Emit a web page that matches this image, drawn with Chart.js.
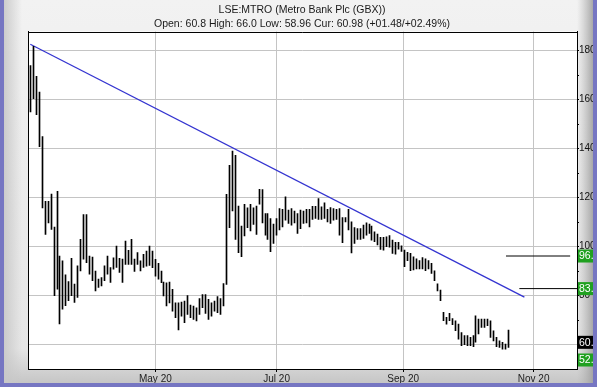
<!DOCTYPE html>
<html>
<head>
<meta charset="utf-8">
<script src="https://cdn.jsdelivr.net/npm/chart.js@4.4.0/dist/chart.umd.min.js"></script>
<style>
  html, body { margin: 0; padding: 0; background: #7676c2; }
  canvas { display: block; }
</style>
</head>
<body>
<canvas id="myChart" width="597" height="387"></canvas>
<script>
// daily high / low, one entry per trading day (Mar 20 .. Oct 20)
const highs = [
  173.9, 181.8, 169.5, 163.1, 144.9, 118.5, 118.5, 121.5, 108.0, 122.6,
  96.2, 94.2, 88.5, 85.8, 95.3, 84.7, 92.2, 103.0, 113.1, 113.1,
  96.2, 95.8, 90.1, 86.8, 87.4, 92.2, 96.2, 91.5, 95.5, 100.3,
  95.3, 94.9, 102.3, 98.5, 103.0, 94.9, 97.6, 94.2, 96.9, 98.2,
  100.3, 98.2, 94.8, 93.2, 90.1, 85.6, 85.3, 85.6, 82.6, 77.1,
  77.1, 77.4, 77.8, 80.1, 76.2, 75.8, 75.1, 78.8, 80.5, 80.5,
  78.5, 77.1, 77.8, 79.6, 78.8, 85.0, 121.4, 133.2, 139.0, 137.3,
  116.6, 108.4, 117.3, 115.9, 117.3, 115.9, 116.6, 123.4, 123.3, 113.5,
  113.5, 111.5, 109.2, 111.5, 115.6, 115.2, 120.3, 114.9, 115.6, 114.5,
  113.5, 114.9, 114.5, 115.2, 115.2, 116.5, 116.5, 119.6, 116.3, 117.9,
  115.2, 116.0, 115.6, 115.2, 115.6, 111.9, 111.9, 115.2, 110.1, 107.8,
  107.4, 107.4, 108.8, 109.7, 109.2, 108.4, 106.1, 105.1, 103.8, 103.8,
  104.0, 104.5, 102.7, 101.8, 101.8, 100.4, 98.6, 97.7, 97.3, 95.9,
  95.0, 94.3, 95.6, 95.0, 94.3, 93.2, 90.2, 84.8, 82.3, 73.2,
  71.2, 72.8, 70.7, 69.8, 68.4, 65.0, 63.7, 63.7, 63.0, 63.7,
  71.8, 70.5, 70.5, 70.5, 70.5, 69.8, 65.7, 63.0, 61.6, 61.0,
  60.3, 66.0
];
const lows = [
  155.0, 160.4, 153.9, 140.8, 115.8, 105.0, 109.7, 107.0, 80.0, 82.7,
  68.5, 74.5, 75.9, 78.0, 80.0, 77.3, 79.3, 90.1, 94.9, 93.5,
  88.8, 86.1, 82.0, 83.4, 84.0, 86.1, 88.8, 85.4, 90.8, 91.5,
  89.5, 85.4, 92.8, 92.8, 92.8, 89.9, 92.8, 90.1, 91.5, 92.1,
  92.4, 91.4, 88.0, 86.7, 85.3, 79.9, 75.8, 77.1, 73.7, 71.0,
  66.0, 71.7, 69.0, 72.4, 71.0, 70.3, 69.7, 72.4, 75.1, 72.8,
  70.3, 71.7, 73.7, 73.1, 72.4, 75.8, 84.6, 107.8, 114.6, 103.0,
  97.6, 95.9, 104.4, 107.8, 106.4, 109.1, 105.0, 117.3, 109.7, 104.7,
  103.0, 98.0, 101.3, 104.7, 106.8, 108.1, 110.8, 109.5, 108.8, 109.7,
  105.4, 107.4, 109.5, 109.7, 108.1, 111.1, 111.5, 111.1, 111.1, 111.5,
  110.1, 109.5, 110.8, 111.1, 104.7, 101.6, 110.1, 106.8, 97.5, 101.3,
  103.0, 103.0, 103.4, 104.7, 105.4, 102.7, 102.0, 100.7, 98.9, 98.6,
  100.0, 99.8, 97.3, 97.0, 99.0, 98.1, 91.8, 94.3, 90.2, 90.5,
  90.9, 90.9, 90.9, 90.2, 90.9, 89.1, 86.1, 82.0, 78.0, 69.8,
  68.4, 69.8, 68.2, 65.7, 62.3, 59.6, 60.0, 59.6, 59.6, 59.2,
  61.0, 64.4, 67.1, 67.1, 67.8, 63.0, 61.6, 59.2, 58.9, 58.2,
  58.2, 58.9
];

// x axis month labels, placed at trading-day index
const tickLabels = ['May 20', 'Jul 20', 'Sep 20', 'Nov 20'];
const tickPos = [42.1, 82.9, 125.5, 169.4];
const yTicks = [60, 70, 80, 90, 100, 110, 120, 130, 140, 150, 160, 170, 180];

// trend line and target levels
const trendX = [0, 166.3];
const trendY = [182.6, 79.4];
const targetLevels = [96.2, 82.9];
const targetFrom = [160.1, 164.6];
const targetTo = [181.7, 184.0];

// right-hand value boxes
const boxValues = [96.2, 82.9, 60.98, 52.0];
const boxTexts = ['96.8', '83.0', '60.98', '52.0'];
const boxColors = ['#20a020', '#20a020', '#000000', '#20a020'];

const titleLines = [
  'LSE:MTRO (Metro Bank Plc (GBX))',
  'Open: 60.8 High: 66.0 Low: 58.96 Cur: 60.98 (+01.48/+02.49%)'
];

const xMin = -0.6, xMax = 184.0;
const yMin = 50.1, yMax = 187.8;

Chart.defaults.font.family = "'Liberation Sans', Arial, sans-serif";
Chart.defaults.font.size = 10;

const framePlugin = {
  id: 'frame',
  beforeDraw(chart) {
    const { ctx, width, height, chartArea: a } = chart;
    ctx.save();
    ctx.fillStyle = '#7676c2';
    ctx.fillRect(0, 0, width, height);
    const g = ctx.createLinearGradient(0, 0, 0, height);
    g.addColorStop(0, '#f2f2f2');
    g.addColorStop(0.9, '#e6e6e6');
    g.addColorStop(1, '#c2c2c2');
    ctx.fillStyle = g;
    ctx.fillRect(4, 0, width - 8, height - 4);
    const gl = ctx.createLinearGradient(4, 0, 22, 0);
    gl.addColorStop(0, 'rgba(200,200,200,0.9)');
    gl.addColorStop(1, 'rgba(200,200,200,0)');
    ctx.fillStyle = gl;
    ctx.fillRect(4, 0, 18, height - 4);
    const gr = ctx.createLinearGradient(a.right, 0, width - 4, 0);
    gr.addColorStop(0, 'rgba(180,180,180,0)');
    gr.addColorStop(1, 'rgba(160,160,160,0.9)');
    ctx.fillStyle = gr;
    ctx.fillRect(a.right, 0, width - 4 - a.right, height - 4);
    ctx.fillStyle = '#ffffff';
    ctx.fillRect(a.left, a.top, a.right - a.left, a.bottom - a.top);
    ctx.restore();
  },
  beforeDatasetDraw(chart, args) {
    // snap the thin high-low bars to whole pixels so they stay crisp
    if (args.index !== 0) return;
    args.meta.data.forEach(el => { el.x = Math.round(el.x - 0.5) + 0.5; });
  },
  afterDraw(chart) {
    const { ctx, width, height, chartArea: a } = chart;
    const ys = chart.scales.y;
    ctx.save();
    ctx.strokeStyle = '#000';
    ctx.lineWidth = 1;
    ctx.beginPath();
    ctx.moveTo(a.left, Math.round(a.top) + 0.5);
    ctx.lineTo(a.right, Math.round(a.top) + 0.5);
    ctx.stroke();

    ctx.font = "10.5px 'Liberation Sans', Arial, sans-serif";
    ctx.textBaseline = 'middle';
    boxValues.forEach((v, i) => {
      const y = Math.min(ys.getPixelForValue(v), a.bottom - 9);
      ctx.fillStyle = boxColors[i];
      ctx.fillRect(a.right + 1, y - 6.5, 18, 13);
      ctx.fillStyle = '#ffffff';
      ctx.fillText(boxTexts[i], a.right + 2, y + 0.5);
    });

    ctx.fillStyle = '#7676c2';
    ctx.fillRect(width - 4, 0, 4, height);
    ctx.fillRect(0, height - 4, width, 4);
    ctx.fillRect(0, 0, 4, height);
    ctx.restore();
  }
};

const ctx = document.getElementById('myChart').getContext('2d');
const myChart = new Chart(ctx, {
  type: 'bar',
  data: {
    datasets: [
      {
        type: 'bar',
        label: 'MTRO',
        data: highs.map((h, i) => ({ x: i, y: [lows[i], h] })),
        backgroundColor: '#000000',
        borderWidth: 0,
        barThickness: 1,
        xAxisID: 'x',
        yAxisID: 'y'
      },
      {
        type: 'line',
        label: 'trend',
        data: trendX.map((x, i) => ({ x: x, y: trendY[i] })),
        borderColor: '#3434d0',
        borderWidth: 1.3,
        pointRadius: 0,
        xAxisID: 'x',
        yAxisID: 'y'
      },
      ...targetLevels.map((lv, i) => ({
        type: 'line',
        label: 'target ' + (i + 1),
        data: [{ x: targetFrom[i], y: lv }, { x: targetTo[i], y: lv }],
        borderColor: '#000000',
        borderWidth: 1,
        pointRadius: 0,
        xAxisID: 'x',
        yAxisID: 'y'
      }))
    ]
  },
  options: {
    responsive: false,
    animation: false,
    layout: { padding: { left: 7, right: 0, top: 0, bottom: 0 } },
    plugins: {
      legend: { display: false },
      tooltip: { enabled: false },
      title: {
        display: true,
        text: titleLines,
        color: '#1a1a1a',
        font: { size: 10.5, weight: 'normal', lineHeight: 14 / 10.5 },
        padding: { top: 3.5, bottom: 0 }
      }
    },
    scales: {
      x: {
        type: 'linear',
        position: 'bottom',
        min: xMin,
        max: xMax,
        offset: false,
        afterBuildTicks: s => { s.ticks = tickPos.map(v => ({ value: v })); },
        grid: { offset: false, color: '#c4c4c4', tickColor: '#000', tickLength: 3 },
        border: { color: '#000' },
        ticks: {
          callback: (v, i) => tickLabels[i],
          color: '#222',
          padding: 1,
          maxRotation: 0,
          autoSkip: false
        },
        afterFit: s => { s.height = 18; }
      },
      y: {
        type: 'linear',
        position: 'right',
        min: yMin,
        max: yMax,
        beginAtZero: false,
        afterBuildTicks: s => { s.ticks = yTicks.map(v => ({ value: v })); },
        grid: {
          color: c => (c.tick && c.tick.value % 20 === 0) ? '#c4c4c4' : 'rgba(0,0,0,0)',
          tickColor: '#000',
          tickLength: 2
        },
        border: { color: '#000' },
        ticks: {
          callback: v => (v % 20 === 0 ? String(v) : ''),
          color: '#111',
          padding: 0
        },
        afterFit: s => { s.width = 20; }
      },
      yl: {
        type: 'linear',
        position: 'left',
        min: yMin,
        max: yMax,
        grid: { drawOnChartArea: false, drawTicks: false },
        border: { color: '#000' },
        ticks: { display: false },
        afterFit: s => { s.width = 21.5; }
      }
    }
  },
  plugins: [framePlugin]
});
</script>
</body>
</html>
